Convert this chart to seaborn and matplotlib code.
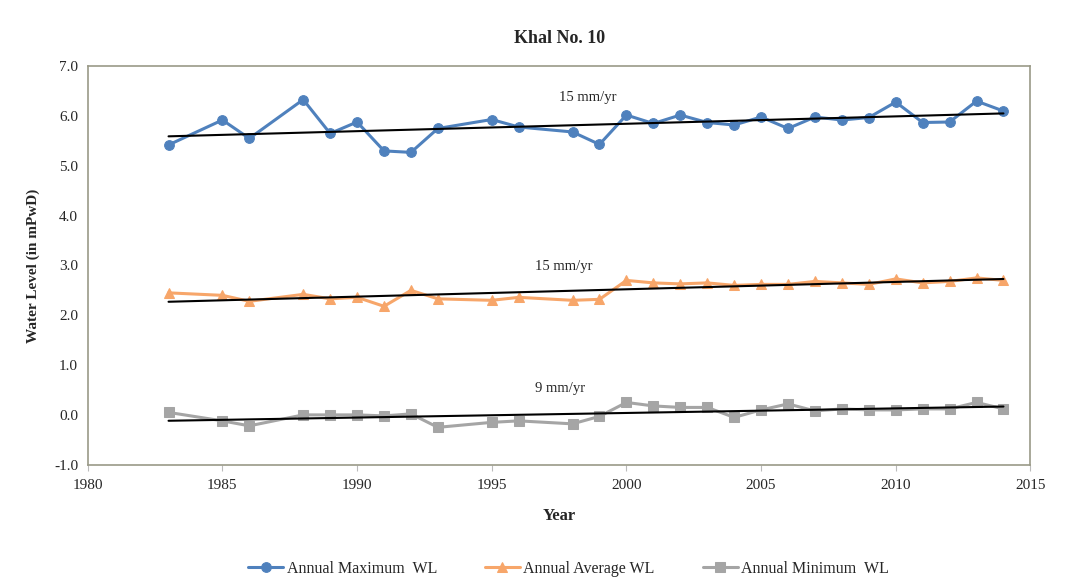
import numpy as np
import pandas as pd
import matplotlib
matplotlib.use('Agg')
import matplotlib.pyplot as plt
import seaborn as sns

sns.set_style('white')
plt.rcParams['font.family'] = ['Liberation Serif', 'DejaVu Serif']

# data
years = [1983, 1985, 1986, 1988, 1989, 1990, 1991, 1992, 1993, 1995, 1996, 1998, 1999,
         2000, 2001, 2002, 2003, 2004, 2005, 2006, 2007, 2008, 2009, 2010, 2011, 2012, 2013, 2014]
wl_max = [5.42, 5.92, 5.55, 6.33, 5.65, 5.88, 5.30, 5.27, 5.75, 5.93, 5.78, 5.68, 5.43,
          6.02, 5.85, 6.02, 5.87, 5.82, 5.98, 5.75, 5.98, 5.92, 5.97, 6.28, 5.87, 5.88, 6.30, 6.10]
wl_avg = [2.45, 2.40, 2.28, 2.42, 2.33, 2.36, 2.18, 2.50, 2.33, 2.30, 2.36, 2.30, 2.32,
          2.70, 2.65, 2.63, 2.65, 2.60, 2.62, 2.62, 2.68, 2.65, 2.62, 2.73, 2.65, 2.68, 2.75, 2.70]
wl_min = [0.05, -0.12, -0.22, 0.00, 0.00, 0.00, -0.02, 0.02, -0.25, -0.15, -0.12, -0.18, -0.03,
          0.25, 0.18, 0.15, 0.15, -0.05, 0.10, 0.22, 0.08, 0.12, 0.10, 0.10, 0.12, 0.12, 0.25, 0.12]
labels = ['Annual Maximum  WL', 'Annual Average WL', 'Annual Minimum  WL']
rates = ['15 mm/yr', '15 mm/yr', '9 mm/yr']

df = pd.DataFrame({'Year': years, 'max': wl_max, 'avg': wl_avg, 'min': wl_min})

colors = ['#4F81BD', '#F7A66A', '#A5A5A5']
markers = ['o', '^', 's']

fig = plt.figure(figsize=(10.7, 5.86), dpi=100)
ax = fig.add_axes([0.082, 0.207, 0.881, 0.68])

for col, lab, c, m in zip(['max', 'avg', 'min'], labels, colors, markers):
    sns.lineplot(data=df, x='Year', y=col, ax=ax, color=c, marker=m, markersize=7,
                 markeredgecolor=c, linewidth=2.2, label=lab)
    sns.regplot(data=df, x='Year', y=col, ax=ax, scatter=False, ci=None,
                line_kws={'color': 'black', 'lw': 1.5})

ax.text(1997.5, 6.3, rates[0], fontsize=10.5)
ax.text(1996.6, 2.9, rates[1], fontsize=10.5)
ax.text(1996.6, 0.45, rates[2], fontsize=10.5)

ax.set_xlim(1980, 2015)
ax.set_ylim(-1, 7)
ax.set_xticks(range(1980, 2016, 5))
ax.set_yticks(np.arange(-1, 7.1, 1))
ax.set_yticklabels([f'{v:.1f}' for v in np.arange(-1, 7.1, 1)])
ax.tick_params(axis='x', bottom=True, length=4, color='#BBBBBB', labelsize=11, pad=6)
ax.tick_params(axis='y', labelsize=11)
for s in ax.spines.values():
    s.set_color('#9A9A88')
    s.set_linewidth(1.2)

ax.set_xlabel('Year', fontsize=12, fontweight='bold', labelpad=12)
ax.set_ylabel('Water Level (in mPwD)', fontsize=11, fontweight='bold', labelpad=10)
ax.set_title('Khal No. 10', fontsize=13, fontweight='bold', pad=17)

ax.legend(loc='upper center', bbox_to_anchor=(0.51, -0.205), ncol=3, frameon=False,
          fontsize=11.5, handlelength=2.2, handletextpad=0.2, columnspacing=3.0)

fig.savefig('out.png', dpi=100)
